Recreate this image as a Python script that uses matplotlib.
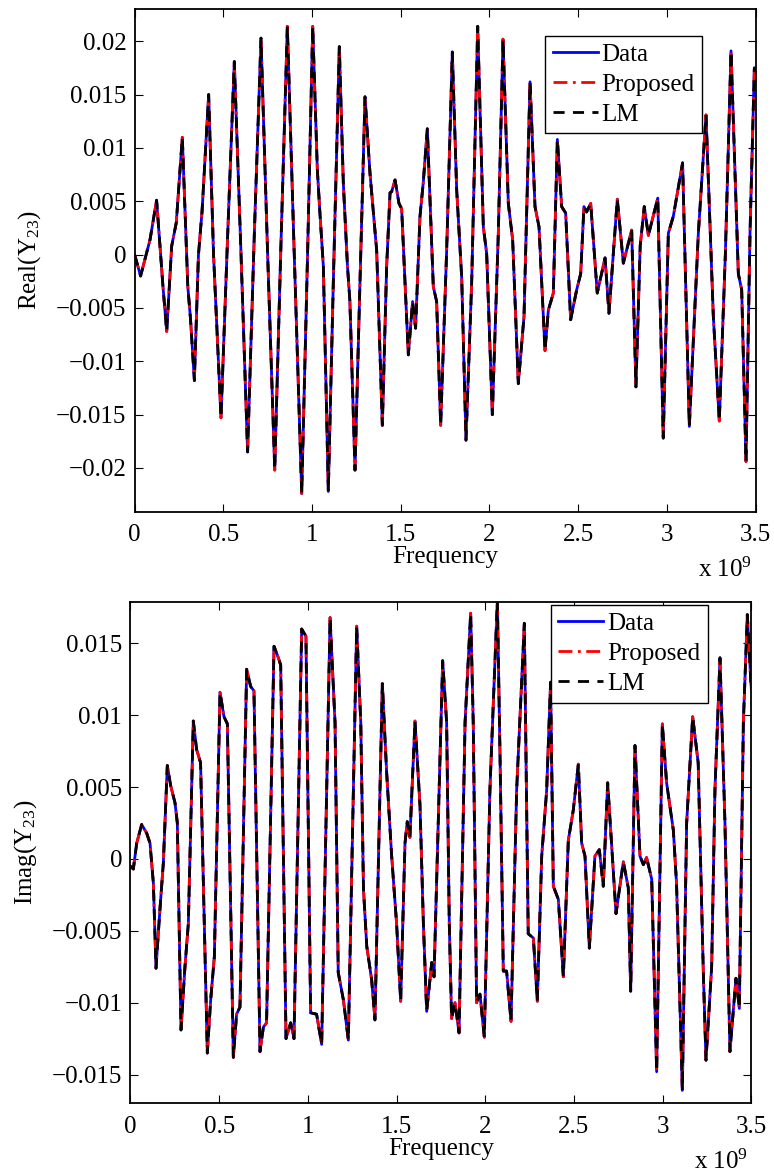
import matplotlib.pyplot as plt

plt.rcParams['font.family'] = ['Liberation Serif', 'DejaVu Serif']
plt.rcParams['mathtext.fontset'] = 'custom'
plt.rcParams['mathtext.rm'] = 'Liberation Serif'
plt.rcParams['mathtext.default'] = 'regular'

# frequency in units of 1e9 Hz
freq_real = [0.000, 0.034, 0.087, 0.124, 0.160, 0.181, 0.209, 0.235, 0.269, 0.300,
             0.315, 0.337, 0.360, 0.380, 0.4175, 0.445, 0.487, 0.525, 0.562, 0.600,
             0.637, 0.675, 0.7125, 0.750, 0.790, 0.825, 0.861, 0.900, 0.942, 0.975,
             1.004, 1.030, 1.045, 1.064, 1.092, 1.120, 1.154, 1.1766, 1.200, 1.2134,
             1.2424, 1.2677, 1.2988, 1.327, 1.3645, 1.3965, 1.4208, 1.440, 1.4491, 1.468,
             1.4903, 1.5054, 1.543, 1.567, 1.584, 1.6087, 1.6275, 1.650, 1.6838, 1.7026,
             1.7253, 1.7591, 1.791, 1.8155, 1.8437, 1.868, 1.900, 1.934, 1.9658, 1.9846,
             2.0165, 2.0503, 2.0767, 2.1067, 2.1311, 2.163, 2.1951, 2.229, 2.2571, 2.2797,
             2.3134, 2.3323, 2.3605, 2.383, 2.4074, 2.4299, 2.458, 2.4919, 2.5145, 2.533,
             2.548, 2.571, 2.608, 2.652, 2.674, 2.721, 2.755, 2.802, 2.826, 2.850,
             2.873, 2.896, 2.949, 2.980, 3.0087, 3.0368, 3.089, 3.127, 3.1778, 3.221,
             3.2623, 3.296, 3.330, 3.362, 3.4033, 3.4221, 3.4465, 3.469, 3.4935, 3.500]
real_y23 = [0.0000, -0.0020, 0.0014, 0.0051, -0.0030, -0.0072, 0.0008, 0.0030, 0.0110, -0.0030,
            -0.0060, -0.0118, 0.0000, 0.0040, 0.0150, 0.0000, -0.0153, 0.0020, 0.0181, 0.0000,
            -0.0185, 0.0020, 0.0203, 0.0000, -0.0202, 0.0010, 0.0214, 0.0000, -0.0224, 0.0000,
            0.0214, 0.0080, 0.0038, -0.0011, -0.0222, -0.0027, 0.0195, 0.0067, -0.0011, -0.0043,
            -0.0202, -0.0043, 0.0148, 0.0076, 0.0004, -0.0160, -0.0011, 0.0058, 0.0059, 0.0070,
            0.0048, 0.0043, -0.0094, -0.0044, -0.0069, 0.0036, 0.0068, 0.0118, -0.0030, -0.0044,
            -0.0160, 0.0004, 0.0190, 0.0061, -0.0021, -0.0174, -0.0027, 0.0214, 0.0026, 0.0001,
            -0.0150, 0.0020, 0.0202, 0.0048, 0.0014, -0.0121, -0.0058, 0.0162, 0.0045, 0.0026,
            -0.0090, -0.0052, -0.0036, 0.0108, 0.0045, 0.0039, -0.0061, -0.0033, -0.0018, 0.0045,
            0.0040, 0.0048, -0.0036, -0.0003, -0.0055, 0.0052, -0.0008, 0.0023, -0.0124, 0.0008,
            0.0045, 0.0018, 0.0053, -0.0172, 0.0020, 0.0036, 0.0086, -0.0161, 0.0020, 0.0131,
            -0.0058, -0.0156, 0.0000, 0.0191, -0.0018, -0.0033, -0.0194, 0.0020, 0.0175, 0.0172]

freq_imag = [0.000, 0.016, 0.035, 0.063, 0.091, 0.110, 0.129, 0.1437, 0.166, 0.185,
             0.2076, 0.2265, 0.251, 0.264, 0.2847, 0.307, 0.326, 0.354, 0.373, 0.395,
             0.433, 0.452, 0.4727, 0.5045, 0.527, 0.546, 0.5797, 0.598, 0.617, 0.6548,
             0.6773, 0.696, 0.730, 0.749, 0.767, 0.809, 0.8334, 0.8466, 0.8766, 0.903,
             0.9216, 0.9649, 0.989, 1.0153, 1.049, 1.0776, 1.125, 1.153, 1.171, 1.200,
             1.228, 1.275, 1.298, 1.3133, 1.332, 1.3594, 1.378, 1.4196, 1.444, 1.4722,
             1.500, 1.523, 1.5474, 1.560, 1.575, 1.6037, 1.632, 1.651, 1.6695, 1.698,
             1.711, 1.7597, 1.782, 1.797, 1.810, 1.829, 1.852, 1.886, 1.9175, 1.932,
             1.951, 1.970, 1.9945, 2.026, 2.068, 2.083, 2.1015, 2.120, 2.145, 2.1767,
             2.220, 2.242, 2.271, 2.2933, 2.318, 2.346, 2.368, 2.3835, 2.4117, 2.440,
             2.468, 2.496, 2.5245, 2.5432, 2.562, 2.5865, 2.618, 2.6428, 2.665, 2.6898,
             2.7368, 2.778, 2.806, 2.8195, 2.8438, 2.872, 2.891, 2.909, 2.938, 2.966,
             2.998, 3.022, 3.060, 3.078, 3.1107, 3.135, 3.169, 3.200, 3.229, 3.244,
             3.276, 3.2945, 3.323, 3.351, 3.379, 3.413, 3.432, 3.4547, 3.477, 3.497, 3.500]
imag_y23 = [-0.0005, -0.0007, 0.0011, 0.0024, 0.0018, 0.0011, -0.0017, -0.0076, -0.0035, -0.0003,
            0.0065, 0.0051, 0.0039, 0.0025, -0.0119, -0.0075, -0.0045, 0.0096, 0.0076, 0.0067,
            -0.0135, -0.0098, -0.0068, 0.0116, 0.0099, 0.0094, -0.0138, -0.0108, -0.0103, 0.0132,
            0.0120, 0.0117, -0.0134, -0.0117, -0.0114, 0.0148, 0.0140, 0.0135, -0.0125, -0.0114,
            -0.0125, 0.0160, 0.0155, -0.0107, -0.0108, -0.0129, 0.0168, 0.0095, -0.0079, -0.0098,
            -0.0126, 0.0162, 0.0095, -0.0021, -0.0061, -0.0084, -0.0112, 0.0122, 0.0060, 0.0002,
            -0.0045, -0.0099, 0.0011, 0.0026, 0.0015, 0.0096, 0.0037, -0.0045, -0.0106, -0.0072,
            -0.0082, 0.0138, 0.0095, -0.0045, -0.0111, -0.0100, -0.0121, 0.0095, 0.0171, 0.0095,
            -0.0100, -0.0094, -0.0124, 0.0048, 0.0180, 0.0072, -0.0078, -0.0078, -0.0113, 0.0048,
            0.0164, -0.0052, -0.0055, -0.0099, 0.0002, 0.0048, 0.0123, -0.0019, -0.0028, -0.0082,
            0.0013, 0.0034, 0.0066, 0.0011, 0.0002, -0.0062, 0.0002, 0.00065, -0.0019, 0.0053,
            -0.0038, -0.0002, -0.0020, -0.0092, 0.0079, 0.0002, -0.0004, 0.0001, -0.0014, -0.0148,
            0.0094, 0.0053, 0.0020, -0.0017, -0.0161, 0.0025, 0.0099, 0.0067, -0.0079, -0.0140,
            -0.0075, 0.0048, 0.0140, 0.0025, -0.0134, -0.0083, -0.0104, 0.0095, 0.0170, 0.0123, 0.0118]

# the fitted models sit on top of the data
series_names = ['Data', 'Proposed', 'LM']
x_ticks = [0, 0.5, 1, 1.5, 2, 2.5, 3, 3.5]
real_ticks = [-0.02, -0.015, -0.01, -0.005, 0, 0.005, 0.01, 0.015, 0.02]
imag_ticks = [-0.015, -0.01, -0.005, 0, 0.005, 0.01, 0.015]

fig = plt.figure(figsize=(7.74, 11.75), dpi=100)
ax1 = fig.add_axes([0.1739, 0.5645, 0.8022, 0.4276])
ax2 = fig.add_axes([0.1686, 0.0610, 0.8022, 0.4269])


def fmt(v):
    if v == 0:
        return '0'
    return ('%g' % v).replace('-', '\u2212')


def draw(ax, x, y, ylim, yticks, ylabel, leg_pos):
    ax.plot(x, y, color='blue', lw=2.0, label=series_names[0])
    ax.plot(x, y, color='red', lw=2.0, ls=(0, (5, 2, 1, 2)), label=series_names[1])
    ax.plot(x, y, color='black', lw=2.0, ls=(0, (4, 3)), label=series_names[2])
    ax.set_xlim(0, 3.5)
    ax.set_ylim(*ylim)
    ax.set_xticks(x_ticks)
    ax.set_xticklabels([fmt(t) for t in x_ticks])
    ax.set_yticks(yticks)
    ax.set_yticklabels([fmt(t) for t in yticks])
    ax.tick_params(direction='in', length=6, width=0.8, top=True, right=True,
                   labelsize=18)
    ax.tick_params(axis='x', pad=9)
    ax.tick_params(axis='y', pad=6)
    for s in ax.spines.values():
        s.set_linewidth(1.3)
    ax.set_xlabel('Frequency', fontsize=18, labelpad=0)
    ax.set_ylabel(ylabel, fontsize=18, labelpad=9)
    leg = ax.legend(loc='upper left', bbox_to_anchor=leg_pos, borderaxespad=0,
                    fontsize=18, fancybox=False, framealpha=1, edgecolor='black',
                    handlelength=1.8, handletextpad=0.15, labelspacing=0.3,
                    borderpad=0.3)
    leg.get_frame().set_linewidth(1.0)
    ax.text(0.994, -0.13, 'x 10$^{9}$', transform=ax.transAxes, ha='right',
            va='baseline', fontsize=18)


draw(ax1, freq_real, real_y23, (-0.0241, 0.0230), real_ticks,
     'Real(Y$_{23}$)', (0.661, 0.947))
draw(ax2, freq_imag, imag_y23, (-0.0170, 0.0179), imag_ticks,
     'Imag(Y$_{23}$)', (0.677, 0.993))

fig.savefig('out.png', dpi=100)
